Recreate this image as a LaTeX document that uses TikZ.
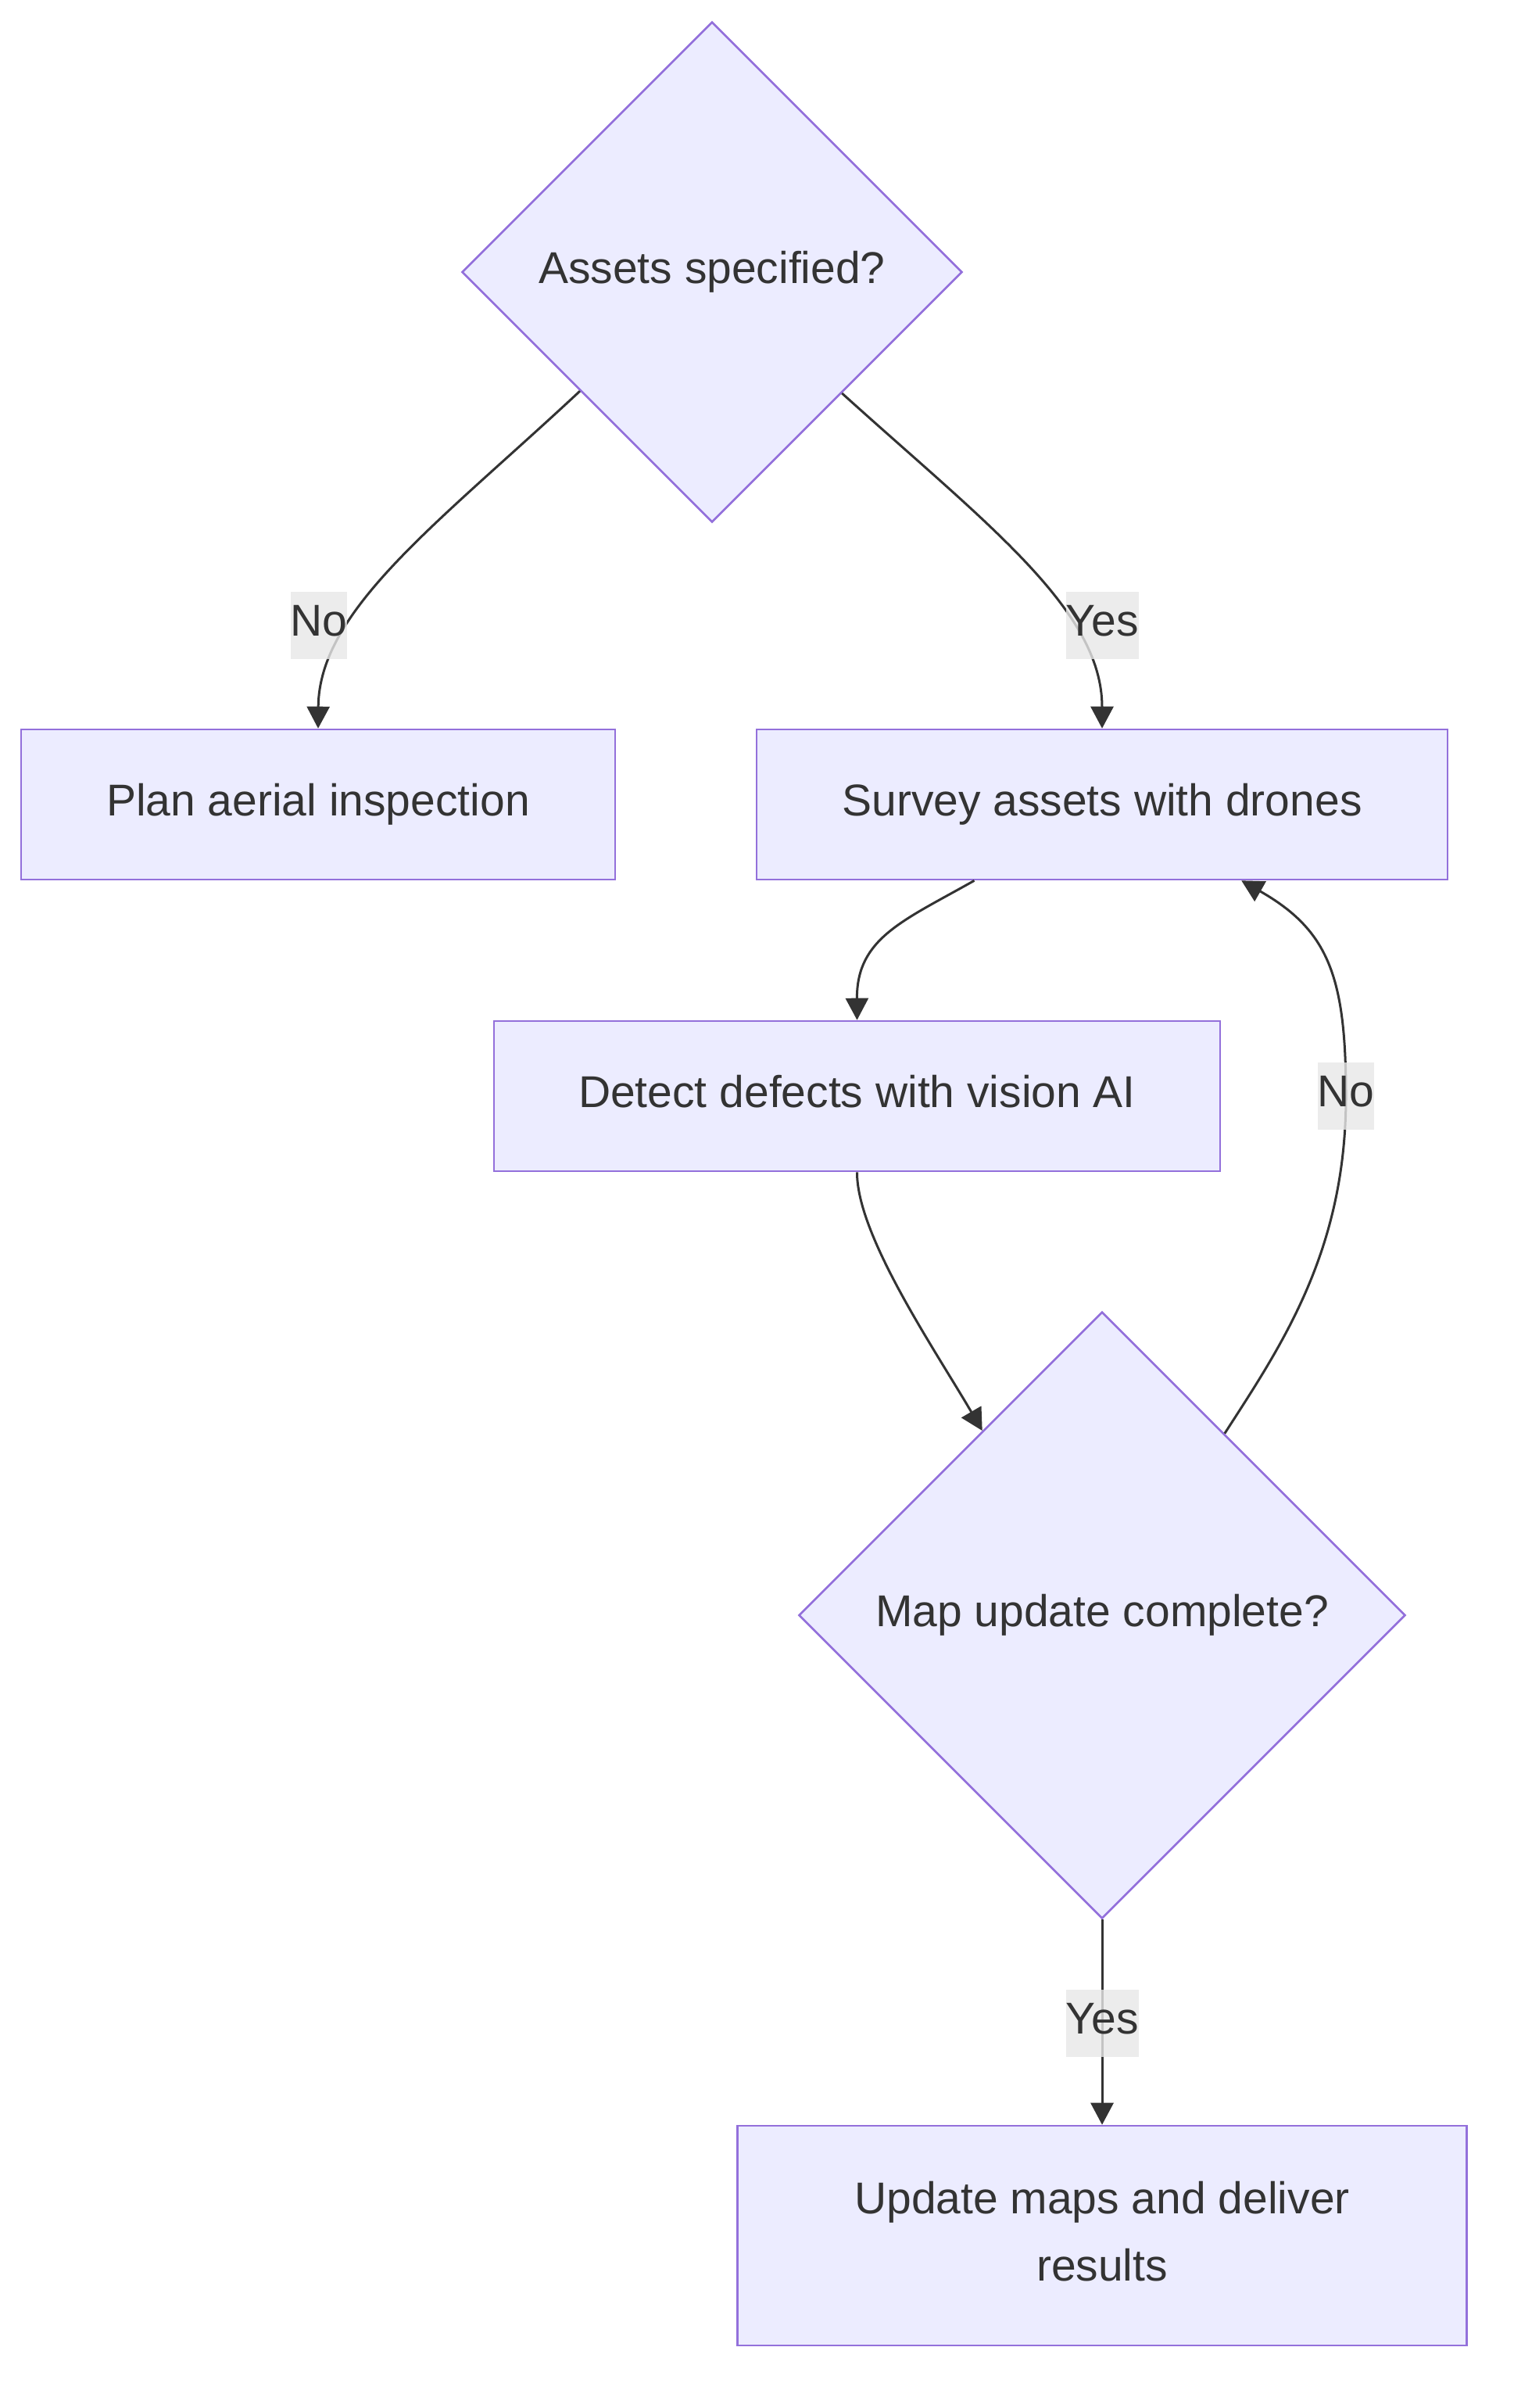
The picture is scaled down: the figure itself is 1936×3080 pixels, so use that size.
\documentclass[tikz,border=0pt]{standalone}
\usepackage{fontspec}
\setmainfont{Liberation Sans}
\usetikzlibrary{shapes.geometric,arrows.meta,calc}
\definecolor{nodefill}{HTML}{ECECFF}
\definecolor{nodeline}{HTML}{9370DB}
\definecolor{ink}{HTML}{333333}
\definecolor{lblbg}{HTML}{E8E8E8}
\begin{document}
\begin{tikzpicture}[x=1pt,y=-1pt,
  txt/.style={text=ink,font=\fontsize{57pt}{86pt}\selectfont,text depth=12pt},
  procbox/.style={txt,rectangle,draw=nodeline,fill=nodefill,line width=2.6pt,inner sep=0pt,align=center},
  decision/.style={txt,diamond,aspect=1,draw=nodeline,fill=nodefill,line width=2.6pt,inner sep=0pt},
  edgelbl/.style={txt,fill=lblbg,fill opacity=0.8,text opacity=1,inner xsep=0pt,inner ysep=0pt,minimum height=86pt},
  flow/.style={draw=ink,line width=3pt,-{Triangle[length=28pt,width=29pt]}}]
\useasboundingbox (0,0) rectangle (1936,3080);
\fill[white] (0,0) rectangle (1936,3080);

% nodes
\node[decision,minimum width=640pt,minimum height=640pt] (d1) at (911,348) {Assets specified?};
\node[procbox,minimum width=760pt,minimum height=192pt] (plan) at (407,1029) {Plan aerial inspection};
\node[procbox,minimum width=884pt,minimum height=192pt] (survey) at (1410,1029) {Survey assets with drones};
\node[procbox,minimum width=929pt,minimum height=192pt] (detect) at (1096.5,1402) {Detect defects with vision AI};
\node[decision,minimum width=776pt,minimum height=776pt] (d2) at (1410,2066) {Map update complete?};
\node[procbox,minimum width=933pt,minimum height=281pt] (update) at (1410,2859.5) {Update maps and deliver\\results};

% label positions
\coordinate (pno1) at (408,800);
\coordinate (pyes1) at (1410,800);
\coordinate (pno2) at (1722,1402);
\coordinate (pyes2) at (1410,2588);

% attachment points
\coordinate (svout) at ($(survey.south west)!0.3156!(survey.south east)$);
\coordinate (svin) at ($(survey.south west)!0.701!(survey.south east)$);

% connectors
\draw[flow] (d1.222.1) .. controls (560,670) and (408,780) .. (plan.north);
\draw[flow] (d1.317.9) .. controls (1262,670) and (1410,780) .. (survey.north);
\draw[flow] (svout) .. controls (1155,1178) and (1096,1200) .. (detect.north);
\draw[flow] (detect.south) .. controls (1096,1580) and (1196,1726) .. (d2.123.5);
\draw[flow] (d2.56.9) .. controls (1640,1720) and (1722,1600) .. (pno2) .. controls (1722,1250) and (1700,1190) .. (svin);
\draw[flow] (d2.south) -- (update.north);

% edge labels
\node[edgelbl] (lno1) at (pno1) {No};
\node[edgelbl] (lyes1) at (pyes1) {Yes};
\node[edgelbl] (lno2) at (pno2) {No};
\node[edgelbl] (lyes2) at (pyes2) {Yes};
\end{tikzpicture}
\end{document}
